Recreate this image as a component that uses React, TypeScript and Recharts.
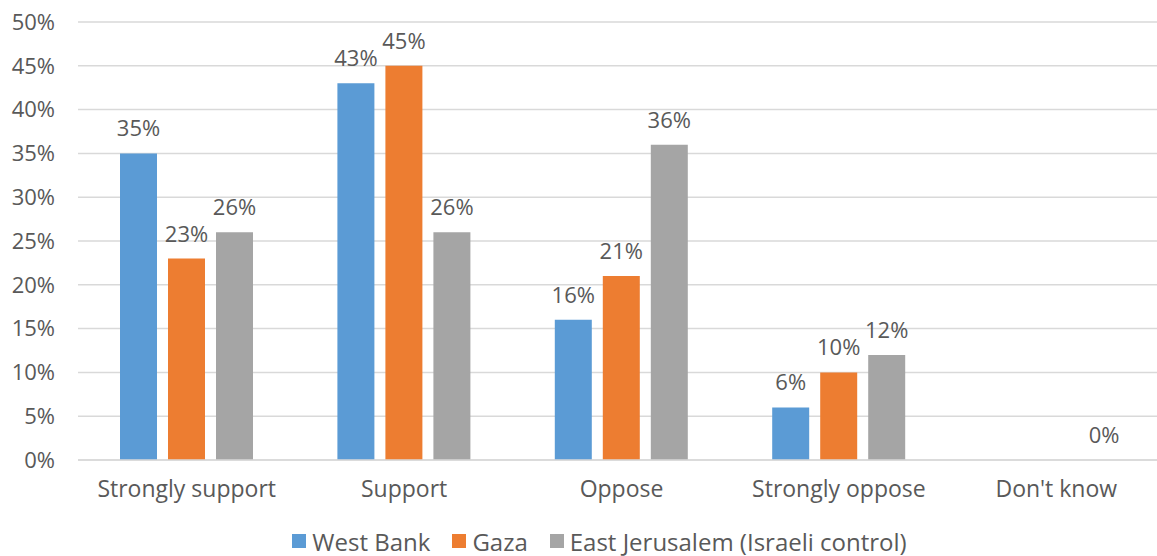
import React from 'react';
import { BarChart, Bar, XAxis, YAxis, CartesianGrid, Legend, LabelList } from 'recharts';

const categories = ['Strongly support', 'Support', 'Oppose', 'Strongly oppose', "Don't know"];
const westBank = [35, 43, 16, 6, null];
const gaza = [23, 45, 21, 10, null];
const eastJerusalem = [26, 26, 36, 12, 0];
const yTicks = [0, 5, 10, 15, 20, 25, 30, 35, 40, 45, 50];

const series = [
  { key: 'westBank', name: 'West Bank', color: '#5B9BD5' },
  { key: 'gaza', name: 'Gaza', color: '#ED7D31' },
  { key: 'eastJerusalem', name: 'East Jerusalem (Israeli control)', color: '#A5A5A5' },
];

const data = categories.map((name, i) => ({
  name,
  westBank: westBank[i],
  gaza: gaza[i],
  eastJerusalem: eastJerusalem[i],
}));

const FONT = '"Open Sans", Lato, sans-serif';
const TEXT = '#595959';
const FS = 23;

const LegendContent = () => (
  <div
    style={{
      display: 'flex',
      justifyContent: 'center',
      alignItems: 'center',
      height: 46,
      paddingTop: 16,
      paddingLeft: 34,
      boxSizing: 'border-box',
      fontFamily: FONT,
      fontSize: 24,
      color: TEXT,
    }}
  >
    {series.map((s, i) => (
      <div
        key={s.key}
        style={{ display: 'flex', alignItems: 'center', marginRight: i < series.length - 1 ? 22 : 0 }}
      >
        <span style={{ width: 14, height: 14, background: s.color, marginRight: 6, display: 'inline-block' }} />
        <span>{s.name}</span>
      </div>
    ))}
  </div>
);

const App: React.FC = () => {
  return (
    <div style={{ width: 1157, height: 556, background: '#fff', overflow: 'hidden' }}>
      <style>{'body{margin:0;}'}</style>
      <BarChart
        width={1157}
        height={556}
        data={data}
        margin={{ top: 22, right: -8, left: 0, bottom: 0 }}
        barSize={37}
        barGap={11}
      >
        <CartesianGrid vertical={false} stroke="#D9D9D9" strokeWidth={1.5} />
        <XAxis
          dataKey="name"
          height={50}
          axisLine={{ stroke: '#D9D9D9', strokeWidth: 1.5 }}
          tickLine={false}
          tickSize={0}
          tickMargin={21}
          tick={{ fontSize: FS, fill: TEXT, fontFamily: FONT }}
          interval={0}
        />
        <YAxis
          width={78}
          domain={[0, 50]}
          ticks={yTicks}
          axisLine={false}
          tickLine={false}
          tickSize={0}
          tickMargin={23}
          tick={{ fontSize: 22, fill: TEXT, fontFamily: FONT }}
          tickFormatter={(v) => `${v}%`}
        />
        <Legend verticalAlign="bottom" content={<LegendContent />} wrapperStyle={{ height: 46 }} />
        {series.map((s) => (
          <Bar
            key={s.key}
            dataKey={s.key}
            name={s.name}
            fill={s.color}
            minPointSize={0.01}
            isAnimationActive={false}
          >
            <LabelList
              dataKey={s.key}
              position="top"
              offset={17}
              formatter={(v: any) => (v === null || v === undefined ? '' : `${v}%`)}
              style={{ fontSize: 22, fill: TEXT, fontFamily: FONT }}
            />
          </Bar>
        ))}
      </BarChart>
    </div>
  );
};

export default App;
